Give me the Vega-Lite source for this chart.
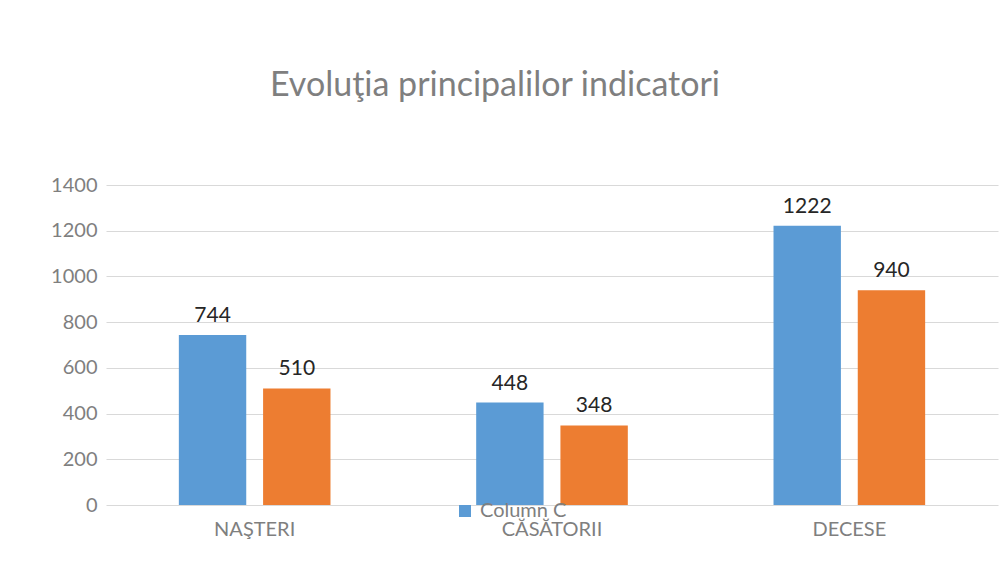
{
  "$schema": "https://vega.github.io/schema/vega-lite/v6.json",
  "autosize": {"type": "none"},
  "width": 892,
  "height": 320,
  "padding": {"left": 106, "top": 185, "right": 10, "bottom": 72},
  "background": "white",
  "title": {
    "text": "Evoluţia principalilor indicatori",
    "font": "Lato",
    "fontSize": 34,
    "fontWeight": "normal",
    "color": "#7f7f7f",
    "anchor": "middle",
    "dx": -57,
    "offset": 72
  },
  "config": {
    "view": {"stroke": null},
    "font": "Lato"
  },
  "data": {
    "values": [
      {"indicator": "NAŞTERI", "series": "Column C", "value": 744},
      {"indicator": "NAŞTERI", "series": "Column D", "value": 510},
      {"indicator": "CĂSĂTORII", "series": "Column C", "value": 448},
      {"indicator": "CĂSĂTORII", "series": "Column D", "value": 348},
      {"indicator": "DECESE", "series": "Column C", "value": 1222},
      {"indicator": "DECESE", "series": "Column D", "value": 940}
    ]
  },
  "encoding": {
    "x": {
      "field": "indicator",
      "type": "nominal",
      "sort": ["NAŞTERI", "CĂSĂTORII", "DECESE"],
      "scale": {"paddingInner": 0.49, "paddingOuter": 0.245},
      "axis": {
        "title": null,
        "domain": false,
        "ticks": false,
        "tickSize": 0,
        "labelPadding": 14,
        "labelFont": "Lato",
        "labelFontSize": 20,
        "labelColor": "#7f7f7f",
        "labelAngle": 0
      }
    },
    "xOffset": {
      "field": "series",
      "type": "nominal",
      "scale": {"paddingInner": 0.2, "paddingOuter": 0}
    },
    "y": {
      "field": "value",
      "type": "quantitative",
      "scale": {"domain": [0, 1400], "nice": false},
      "axis": {
        "title": null,
        "values": [0, 200, 400, 600, 800, 1000, 1200, 1400],
        "format": "d",
        "domain": false,
        "ticks": false,
        "tickSize": 0,
        "labelPadding": 9,
        "labelFont": "Lato",
        "labelFontSize": 20,
        "labelColor": "#7f7f7f",
        "gridColor": "#d9d9d9",
        "gridWidth": 1
      }
    }
  },
  "layer": [
    {
      "mark": {"type": "bar"},
      "encoding": {
        "color": {
          "field": "series",
          "type": "nominal",
          "scale": {"domain": ["Column C", "Column D"], "range": ["#5b9bd5", "#ed7d31"]},
          "legend": {
            "values": ["Column C"],
            "title": null,
            "orient": "none",
            "legendX": 349,
            "legendY": 316,
            "padding": 0,
            "symbolType": "square",
            "symbolSize": 144,
            "symbolStrokeWidth": 0,
            "labelFont": "Lato",
            "labelFontSize": 20,
            "labelColor": "#7f7f7f",
            "labelOffset": 5
          }
        }
      }
    },
    {
      "mark": {"type": "text", "baseline": "alphabetic", "dy": -13, "font": "Lato", "fontSize": 21, "color": "#262626"},
      "encoding": {
        "text": {"field": "value", "type": "quantitative"}
      }
    }
  ]
}
